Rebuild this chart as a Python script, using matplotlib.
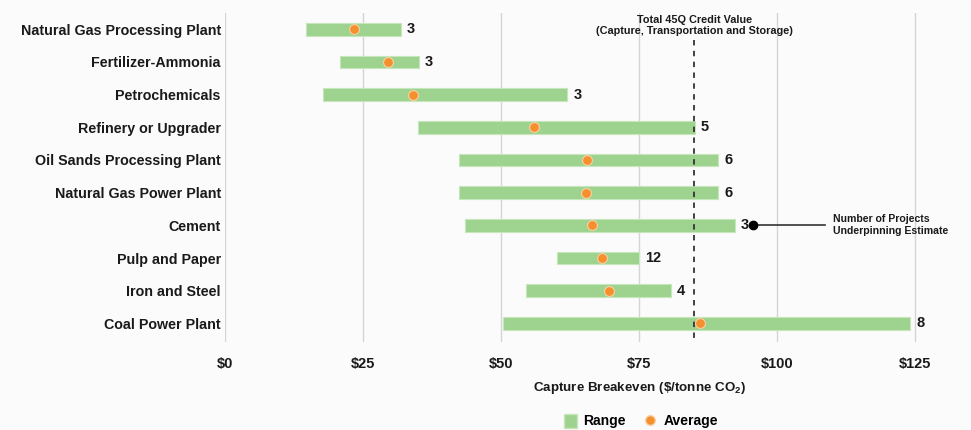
import matplotlib
matplotlib.use("Agg")
import matplotlib.pyplot as plt
from matplotlib.lines import Line2D
from matplotlib.patches import Patch

# capture breakeven ranges by facility type ($/tonne CO2)
categories = ["Natural Gas Processing Plant", "Fertilizer-Ammonia", "Petrochemicals",
              "Refinery or Upgrader", "Oil Sands Processing Plant", "Natural Gas Power Plant",
              "Cement", "Pulp and Paper", "Iron and Steel", "Coal Power Plant"]
range_low = [14.6, 20.9, 17.8, 35.0, 42.4, 42.4, 43.5, 60.2, 54.6, 50.4]
range_high = [31.8, 35.1, 62.0, 85.1, 89.4, 89.4, 92.3, 75.0, 80.8, 124.1]
average = [23.4, 29.6, 34.0, 56.0, 65.5, 65.4, 66.5, 68.3, 69.6, 86.1]
n_projects = [3, 3, 3, 5, 6, 6, 3, 12, 4, 8]
credit_45q = 85
xticks = [0, 25, 50, 75, 100, 125]
xticklabels = ["$0", "$25", "$50", "$75", "$100", "$125"]

GREEN = "#9dd38e"; ORANGE = "#f5902f"; GRID = "#d4d4d4"; BG = "#fbfbfb"; TXT = "#1a1a1a"
plt.rcParams["font.family"] = ["Liberation Sans", "DejaVu Sans"]
plt.rcParams["mathtext.fontset"] = "custom"
plt.rcParams["mathtext.bf"] = "Liberation Sans:bold"
plt.rcParams["mathtext.rm"] = "Liberation Sans:bold"

fig = plt.figure(figsize=(9.71, 4.30), dpi=100, facecolor=BG)
ax = fig.add_axes([0.2317, 0.2047, 0.7675, 0.7658], facecolor=BG)

y = list(range(len(categories)))
widths = [h - l for l, h in zip(range_low, range_high)]
ax.barh(y, widths, left=range_low, height=0.39, color=GREEN, edgecolor="#c6e6bb", lw=0.8, zorder=2)
ax.scatter(average, y, s=50, color=ORANGE, edgecolors="#fbd0a4", linewidths=0.8, zorder=4)
for yi, h, n in zip(y, range_high, n_projects):
    ax.text(h + 1.1, yi, str(n), va="center", ha="left", fontsize=10.5, fontweight="bold", color=TXT, zorder=5)

ax.set_xlim(0, 135)
ax.set_ylim(9.57, -0.508)
ax.set_xticks(xticks)
ax.set_xticklabels(xticklabels, fontsize=10.5, fontweight="bold", color=TXT,
                   family=["Liberation Sans Narrow", "Liberation Sans"])
ax.set_yticks(y)
ax.set_yticklabels(categories, fontsize=10.3, fontweight="bold", color=TXT)
ax.tick_params(length=0, axis="x", pad=11)
ax.tick_params(length=0, axis="y", pad=3)
ax.grid(axis="x", color=GRID, lw=1, zorder=0)
for s in ax.spines.values():
    s.set_visible(False)

# 45Q credit line with its caption
ax.plot([credit_45q, credit_45q], [0.33, 9.57], ls=(0, (3, 3)), color="#333333", lw=1.3, zorder=3, clip_on=False)
ax.text(credit_45q, 0.22, "Total 45Q Credit Value\n(Capture, Transportation and Storage)",
        ha="center", va="bottom", fontsize=7.8, fontweight="bold", color=TXT, linespacing=1.15)

# callout explaining the project counts
ax.plot([95.7, 108.7], [6, 6], color="#333333", lw=1.2, zorder=3)
ax.scatter([95.7], [6], s=36, color="black", zorder=4)
ax.text(110.1, 6, "Number of Projects\nUnderpinning Estimate", ha="left", va="center",
        fontsize=7.6, fontweight="bold", color=TXT, linespacing=1.25)

fig.text(639 / 971, 1 - 388 / 430, r"Capture Breakeven (\$/tonne CO$_2$)", ha="center", va="center",
         fontsize=9.6, fontweight="bold", color=TXT)

handles = [Patch(facecolor=GREEN, edgecolor="#c6e6bb", label="Range"),
           Line2D([], [], marker="o", ls="", color=ORANGE, markeredgecolor="#fbd0a4", markersize=7, label="Average")]
fig.legend(handles=handles, loc="center", bbox_to_anchor=(641 / 971, 1 - 421 / 430), ncol=2, frameon=False,
           prop={"weight": "bold", "size": 10}, handlelength=0.9, handleheight=1.2, columnspacing=1.3,
           handletextpad=0.5, borderpad=0.2)

fig.savefig("out.png", dpi=100, facecolor=BG)
